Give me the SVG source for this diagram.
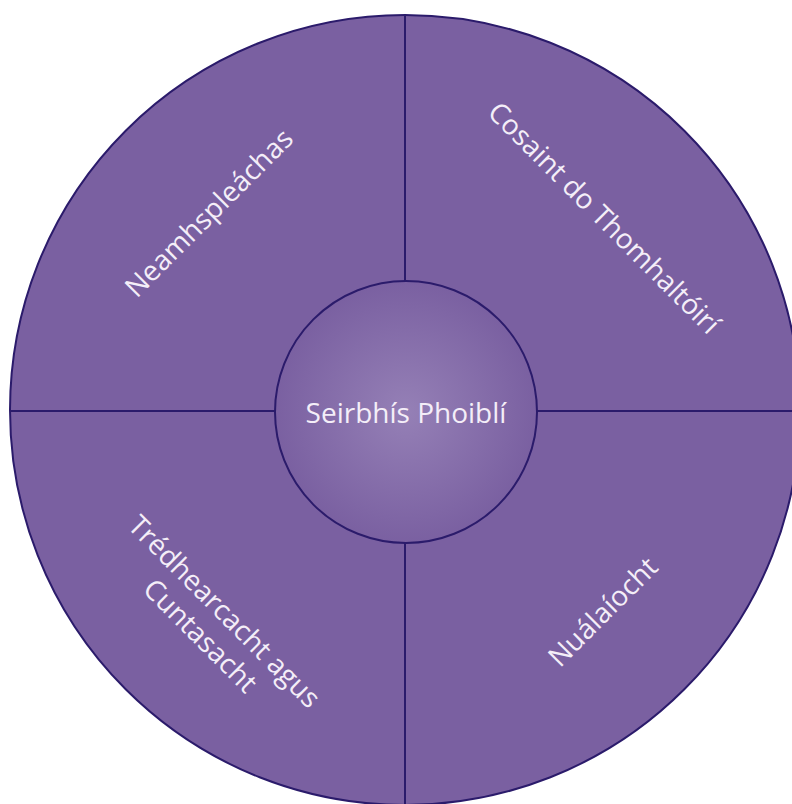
<svg xmlns="http://www.w3.org/2000/svg" width="792" height="804" viewBox="0 0 792 804">
<defs>
<radialGradient id="g" cx="0.5" cy="0.5" r="0.5">
<stop offset="0" stop-color="#9580B6"/>
<stop offset="1" stop-color="#7A60A1"/>
</radialGradient>
<style>
.seg{fill:#7A60A1;stroke:#2B1B6B;stroke-width:2}
.t{font-family:"Open Sans","Noto Sans",sans-serif;font-size:28px;fill:#F4EEF8;text-anchor:middle;dominant-baseline:central}
</style>
</defs>
<rect width="792" height="804" fill="#ffffff"/>
<g id="outer">
<circle class="seg" cx="405" cy="410" r="395"/>
</g>
<g id="connectors" stroke="#2B1B6B" stroke-width="2">
<line x1="405" y1="15" x2="405" y2="281"/>
<line x1="405" y1="543" x2="405" y2="805"/>
<line x1="10" y1="411" x2="275" y2="411"/>
<line x1="537" y1="411" x2="800" y2="411"/>
</g>
<g id="n1"><text class="t" transform="translate(208,212) rotate(-45)">Neamhspleáchas</text></g>
<g id="n2"><text class="t" transform="translate(605,217) rotate(45)">Cosaint do Thomhaltóirí</text></g>
<g id="n3"><text class="t" transform="translate(214,622) rotate(45)"><tspan x="0" y="-16">Trédhearcacht agus</tspan><tspan x="0" y="18">Cuntasacht</tspan></text></g>
<g id="n4"><text class="t" transform="translate(602,611) rotate(-45)">Nuálaíocht</text></g>
<g id="center">
<circle cx="406" cy="412" r="131" fill="url(#g)" stroke="#2B1B6B" stroke-width="2"/>
<text class="t" x="406" y="412">Seirbhís Phoiblí</text>
</g>
</svg>
